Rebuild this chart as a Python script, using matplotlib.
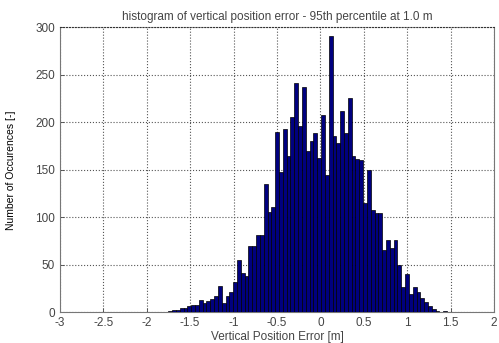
import numpy as np
import matplotlib
matplotlib.use("Agg")
import matplotlib.pyplot as plt

# histogram of vertical position error: 100 bins between the data min and max
ERR_MIN = -2.544   # m
ERR_MAX = 1.856    # m
COUNTS = [
    1, 0, 0, 0, 0, 1, 0, 0, 0, 0,
    0, 1, 0, 0, 0, 0, 0, 0, 2, 3,
    3, 5, 5, 7, 8, 8, 13, 10, 12, 14,
    17, 28, 10, 17, 21, 32, 55, 41, 38, 70,
    70, 81, 81, 135, 106, 111, 190, 148, 193, 165,
    206, 241, 196, 237, 170, 180, 189, 162, 208, 145,
    291, 185, 178, 212, 189, 225, 165, 161, 160, 115,
    150, 108, 105, 105, 66, 76, 68, 76, 50, 27,
    40, 19, 27, 22, 15, 11, 7, 4, 2, 1,
    2, 0, 1, 0, 0, 0, 1, 0, 0, 1,
]
XTICKS = [-3, -2.5, -2, -1.5, -1, -0.5, 0, 0.5, 1, 1.5, 2]
YTICKS = [0, 50, 100, 150, 200, 250, 300]

TITLE = "histogram of vertical position error - 95th percentile at 1.0 m"
XLABEL = "Vertical Position Error [m]"
YLABEL = "Number of Occurences [-]"

plt.rcParams["font.family"] = ["Liberation Sans", "DejaVu Sans"]

edges = np.linspace(ERR_MIN, ERR_MAX, len(COUNTS) + 1)
centers = 0.5 * (edges[:-1] + edges[1:])
width = edges[1] - edges[0]

fig = plt.figure(figsize=(4.99, 3.43), dpi=100)
ax = fig.add_axes([0.120, 0.089, 0.870, 0.832])

ax.bar(centers, COUNTS, width=width, color="#00007f", edgecolor="black",
       linewidth=0.5, zorder=3)

ax.set_xlim(-3, 2)
ax.set_ylim(0, 300)
ax.set_xticks(XTICKS)
ax.set_xticklabels([f"{t:g}" for t in XTICKS])
ax.set_yticks(YTICKS)
ax.grid(True, linestyle=":", color="#555555", linewidth=0.8, zorder=0)
ax.tick_params(direction="in", length=3, width=0.6, colors="#444444",
               labelsize=8.5, labelcolor="#444444", top=False, right=False)

for side in ("left", "bottom", "right"):
    ax.spines[side].set_color("#777777")
    ax.spines[side].set_linewidth(0.8)
ax.spines["top"].set_linestyle(":")
ax.spines["top"].set_color("#333333")

ax.set_title(TITLE, fontsize=8.5, color="#444444", pad=5)
ax.set_xlabel(XLABEL, fontsize=8.5, color="#444444", labelpad=1)
ax.set_ylabel(YLABEL, fontsize=7.5, color="black", labelpad=14)

fig.savefig("out.png", dpi=100)
